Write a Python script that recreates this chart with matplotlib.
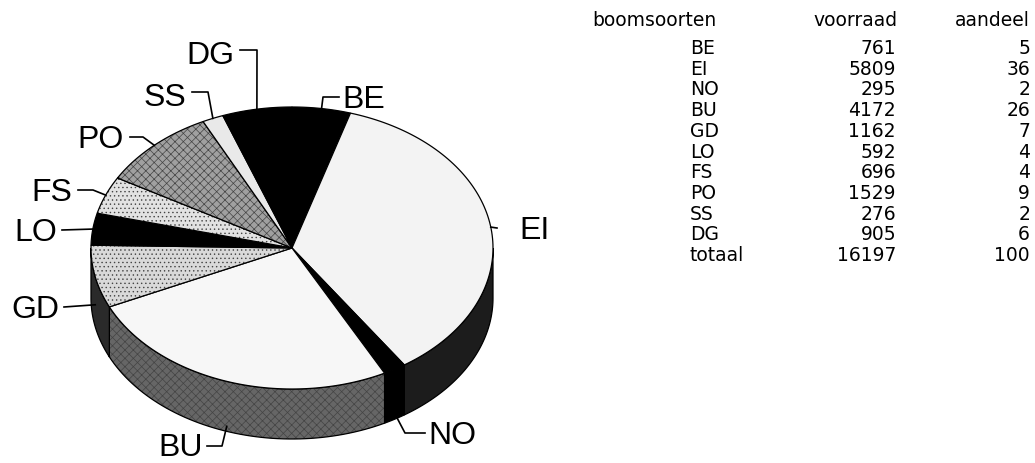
from matplotlib import pyplot as plt
from matplotlib.patches import Polygon
import numpy as np

# data
soorten = ["BE", "EI", "NO", "BU", "GD", "LO", "FS", "PO", "SS", "DG"]
voorraad = [761, 5809, 295, 4172, 1162, 592, 696, 1529, 276, 905]
aandeel = [5, 36, 2, 26, 7, 4, 4, 9, 2, 6]
totaal_voorraad = 16197
totaal_aandeel = 100

# styling
top_kleur = ["#000000", "#f3f3f3", "#000000", "#f7f7f7", "#d9d9d9",
             "#000000", "#e2e2e2", "#a0a0a0", "#e9e9e9", "#000000"]
top_hatch = [None, None, None, None, "....", None, "....", "xxxx", None, None]
zij_kleur = ["#000000", "#1c1c1c", "#000000", "#666666", "#2a2a2a",
             "#000000", "#303030", "#303030", "#303030", "#000000"]
zij_hatch = [None, None, None, "xxxx", None, None, None, None, None, None]

plt.rcParams["hatch.linewidth"] = 0.5

# pie geometry (pixels)
cx, cy, rx, ry, diepte = 292, 248, 201, 141, 50

# label layout: text pos, ha, leader start, elbow, drop onto side
lab_tekst = [(342, 108), (519, 239), (428, 444), (203, 456), (59, 318),
             (57, 241), (72, 201), (124, 148), (186, 106), (234, 64)]
lab_ha = ["left", "left", "left", "right", "right",
          "right", "right", "right", "right", "right"]
lab_start = [(339, 97), (497, 228), (425, 433), (207, 446), (64, 307),
             (62, 230), (78, 190), (130, 137), (192, 92), (240, 50)]
lab_knik = [(323, 97), (497, 228), (405, 433), (222, 446), (64, 307),
            (62, 230), (93, 190), (143, 137), (208, 92), (257, 50)]
lab_drop = [0, 0, 44, 45, 28, 0, 0, 0, 0, 0]


def punt(t, dy=0):
    t = np.radians(t)
    return cx + rx * np.sin(t), cy - ry * np.cos(t) + dy


def vlak(pts, kleur, hatch, z):
    if hatch:
        ax.add_patch(Polygon(pts, closed=True, facecolor=kleur, edgecolor="#444444",
                             hatch=hatch, lw=0, zorder=z))
        ax.add_patch(Polygon(pts, closed=True, facecolor="none",
                             edgecolor="black", lw=0.9, zorder=z))
    else:
        ax.add_patch(Polygon(pts, closed=True, facecolor=kleur,
                             edgecolor="black", lw=0.9, zorder=z))


fig = plt.figure(figsize=(10.35, 4.63), dpi=100)
ax = fig.add_axes([0, 0, 1, 1])
ax.set_xlim(0, 1035)
ax.set_ylim(463, 0)
ax.axis("off")

hoeken = np.array(voorraad) / totaal_voorraad * 360
eind = np.cumsum(hoeken)
begin = eind - hoeken

# sides (front half only: 90..270 deg clockwise from top)
for i in range(len(soorten)):
    a1, a2 = max(begin[i], 90), min(eind[i], 270)
    if a2 <= a1:
        continue
    t = np.linspace(a1, a2, 60)
    xb, yb = punt(t)
    xo, yo = punt(t[::-1], diepte)
    pts = np.column_stack([np.r_[xb, xo], np.r_[yb, yo]])
    vlak(pts, zij_kleur[i], zij_hatch[i], 2)

# top wedges
for i in range(len(soorten)):
    t = np.linspace(begin[i], eind[i], 100)
    xs, ys = punt(t)
    pts = np.column_stack([np.r_[cx, xs], np.r_[cy, ys]])
    vlak(pts, top_kleur[i], top_hatch[i], 3)

# labels with leader lines
for i, naam in enumerate(soorten):
    mid = (begin[i] + eind[i]) / 2
    ex, ey = punt(mid, lab_drop[i])
    sx, sy = lab_start[i]
    kx, ky = lab_knik[i]
    ax.plot([sx, kx, ex], [sy, ky, ey], color="black", lw=1.2, zorder=4)
    ax.text(lab_tekst[i][0], lab_tekst[i][1], naam, ha=lab_ha[i], va="baseline",
            fontsize=23, family="Liberation Sans", zorder=5)

# table
tf = dict(fontsize=13.5, family="DejaVu Sans", va="baseline")
ax.text(592, 26, "boomsoorten", ha="left", **tf)
ax.text(898, 26, "voorraad", ha="right", **tf)
ax.text(1030, 26, "aandeel", ha="right", **tf)
rijen = list(zip(soorten, voorraad, aandeel)) + [("totaal", totaal_voorraad, totaal_aandeel)]
for r, (naam, v, a) in enumerate(rijen):
    y = 54 + r * 20.7
    ax.text(690, y, naam, ha="left", **tf)
    ax.text(896, y, str(v), ha="right", **tf)
    ax.text(1030, y, str(a), ha="right", **tf)

fig.savefig("out.png", dpi=100)
